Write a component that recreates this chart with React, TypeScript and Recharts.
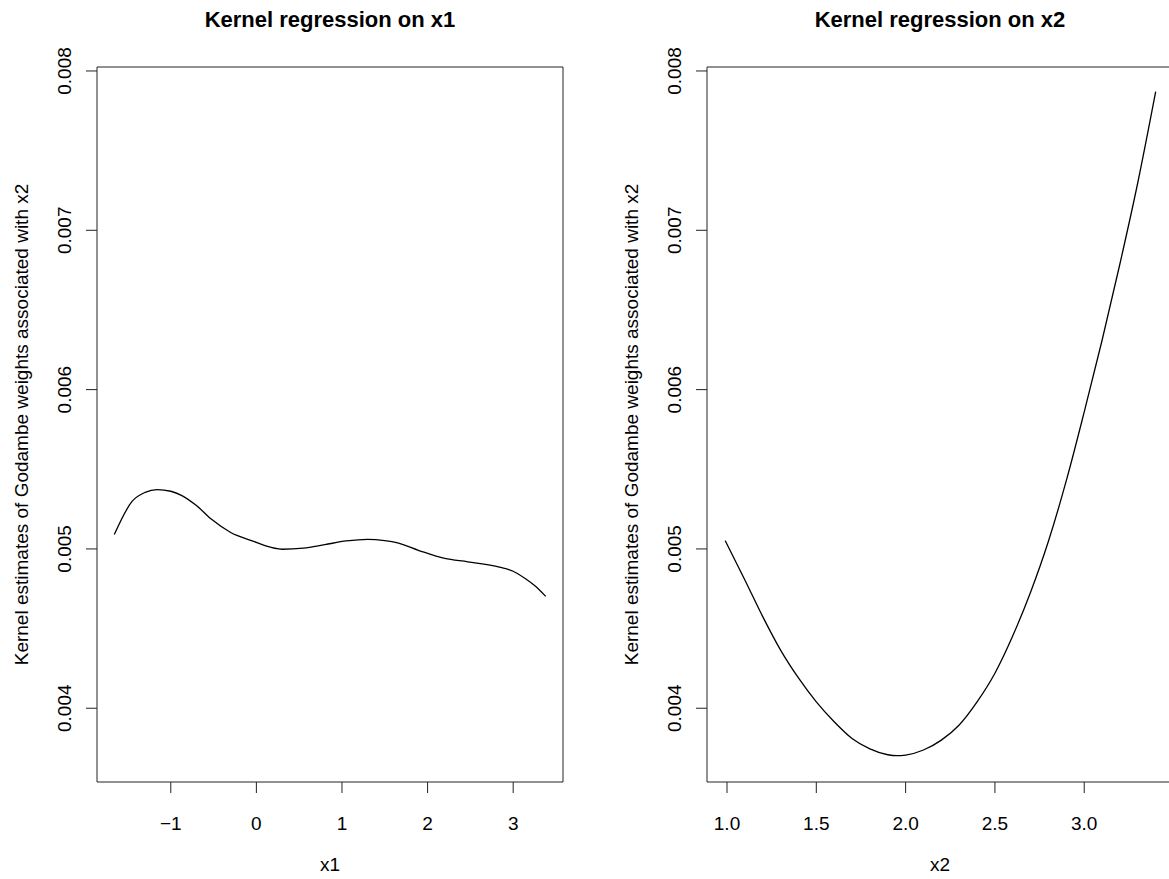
import { LineChart, Line, XAxis, YAxis, ReferenceArea } from "recharts";

// kernel fit on x1
const x1Grid = [
  -1.66, -1.45, -1.3, -1.16, -1.0, -0.87, -0.7, -0.52, -0.3, -0.04, 0.1, 0.3, 0.55,
  0.8, 1.05, 1.3, 1.5, 1.65, 1.9, 2.2, 2.47, 2.84, 3.0, 3.14, 3.25, 3.38,
];
const x1Fit = [
  0.00509, 0.0053, 0.005355, 0.005372, 0.005362, 0.005335, 0.005272, 0.005184, 0.005103,
  0.005049, 0.00502, 0.004998, 0.005005, 0.005027, 0.00505, 0.00506, 0.005052, 0.005038,
  0.00499, 0.00494, 0.004919, 0.004886, 0.00486, 0.004814, 0.00477, 0.004702,
];

// kernel fit on x2
const x2Grid = [
  0.99, 1.1, 1.2, 1.3, 1.4, 1.5, 1.6, 1.7, 1.8, 1.9, 1.95, 2.0, 2.1, 2.2, 2.3, 2.4, 2.5,
  2.6, 2.7, 2.8, 2.9, 3.0, 3.1, 3.2, 3.3, 3.4,
];
const x2Fit = [
  0.005052, 0.004805, 0.004575, 0.004365, 0.00419, 0.00404, 0.003915, 0.00381, 0.003745,
  0.003708, 0.003702, 0.003706, 0.003738, 0.0038, 0.003895, 0.00404, 0.00422, 0.004455,
  0.00473, 0.00505, 0.00543, 0.00586, 0.00631, 0.00679, 0.0073, 0.00787,
];

const x1Ticks = [-1, 0, 1, 2, 3];
const x2Ticks = [1.0, 1.5, 2.0, 2.5, 3.0];
const yTicks = [0.004, 0.005, 0.006, 0.007, 0.008];
const yTitle = "Kernel estimates of Godambe weights associated with x2";

const FONT = '"Liberation Sans", Arial, Helvetica, sans-serif';
const FS = 19;
const W = 584;
const H = 879;
const LEFT = 97;
const RIGHT = 563;
const TOP = 67;
const BOTTOM = 782;
const Y_DOMAIN: [number, number] = [0.003537, 0.008025];

type PanelProps = {
  title: string;
  xLabel: string;
  xs: number[];
  ys: number[];
  xDomain: [number, number];
  xTicks: number[];
  fmt: (v: number) => string;
};

function Panel({ title, xLabel, xs, ys, xDomain, xTicks, fmt }: PanelProps) {
  const data = xs.map((x, i) => ({ x, y: ys[i] }));
  const midX = (LEFT + RIGHT) / 2;
  const midY = (TOP + BOTTOM) / 2;

  return (
    <div style={{ position: "relative", width: W, height: H }}>
      <LineChart
        width={W}
        height={H}
        data={data}
        margin={{ top: TOP, right: W - RIGHT, bottom: 0, left: 0 }}
      >
        <XAxis
          type="number"
          dataKey="x"
          domain={xDomain}
          ticks={xTicks}
          interval={0}
          allowDataOverflow
          axisLine={false}
          tickSize={11}
          tickLine={{ stroke: "#222" }}
          height={H - BOTTOM}
          tick={(p: any) => (
            <text
              x={p.x}
              y={BOTTOM + 48}
              textAnchor="middle"
              fontSize={FS}
              fontFamily={FONT}
              fill="#000"
            >
              {fmt(p.payload.value)}
            </text>
          )}
          label={{
            content: () => (
              <text
                x={midX}
                y={BOTTOM + 89}
                textAnchor="middle"
                fontSize={FS}
                fontFamily={FONT}
                fill="#000"
              >
                {xLabel}
              </text>
            ),
          }}
        />
        <YAxis
          type="number"
          domain={Y_DOMAIN}
          ticks={yTicks}
          interval={0}
          allowDataOverflow
          axisLine={false}
          tickSize={11}
          tickLine={{ stroke: "#222" }}
          width={LEFT}
          tick={(p: any) => (
            <text
              transform={`translate(71, ${p.y}) rotate(-90)`}
              textAnchor="middle"
              fontSize={FS}
              fontFamily={FONT}
              fill="#000"
            >
              {p.payload.value.toFixed(3)}
            </text>
          )}
          label={{
            content: () => (
              <text
                transform={`translate(28, ${midY}) rotate(-90)`}
                textAnchor="middle"
                fontSize={FS}
                fontFamily={FONT}
                fill="#000"
              >
                {yTitle}
              </text>
            ),
          }}
        />
        <ReferenceArea
          x1={xDomain[0]}
          x2={xDomain[1]}
          y1={Y_DOMAIN[0]}
          y2={Y_DOMAIN[1]}
          fill="none"
          stroke="#222"
          strokeWidth={1}
          ifOverflow="visible"
        />
        <Line
          type="monotone"
          dataKey="y"
          stroke="#000"
          strokeWidth={1.3}
          dot={false}
          isAnimationActive={false}
        />
      </LineChart>
      <svg
        width={W}
        height={40}
        style={{ position: "absolute", left: 0, top: 0, pointerEvents: "none" }}
      >
        <text
          x={midX}
          y={27}
          textAnchor="middle"
          fontSize={22}
          fontWeight="bold"
          fontFamily={FONT}
          fill="#000"
        >
          {title}
        </text>
      </svg>
    </div>
  );
}

const fmtX1 = (v: number) => (v < 0 ? "\u2212" + Math.abs(v) : String(v));
const fmtX2 = (v: number) => v.toFixed(1);

export default function App() {
  return (
    <div
      style={{
        position: "absolute",
        left: 0,
        top: 0,
        width: 1169,
        height: 879,
        overflow: "hidden",
        background: "#fff",
      }}
    >
      <div style={{ position: "absolute", left: 0, top: 0 }}>
        <Panel
          title="Kernel regression on x1"
          xLabel="x1"
          xs={x1Grid}
          ys={x1Fit}
          xDomain={[-1.862, 3.582]}
          xTicks={x1Ticks}
          fmt={fmtX1}
        />
      </div>
      <div style={{ position: "absolute", left: 610, top: 0 }}>
        <Panel
          title="Kernel regression on x2"
          xLabel="x2"
          xs={x2Grid}
          ys={x2Fit}
          xDomain={[0.888, 3.497]}
          xTicks={x2Ticks}
          fmt={fmtX2}
        />
      </div>
    </div>
  );
}
